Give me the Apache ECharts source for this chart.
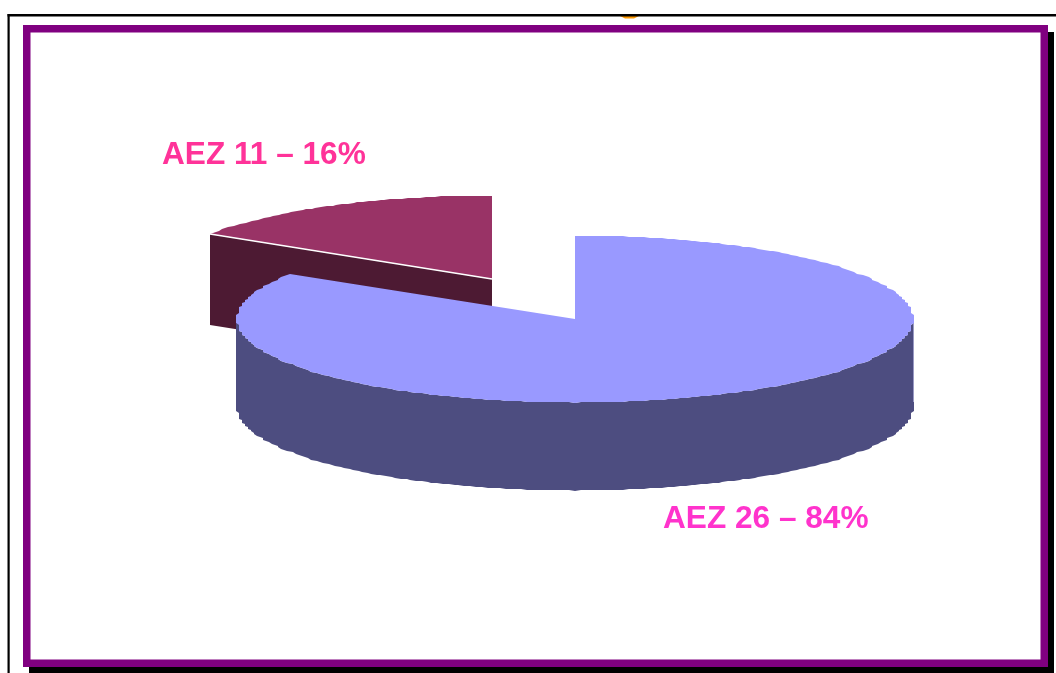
<!DOCTYPE html>
<html>
<head>
<meta charset="utf-8">
<title>AEZ</title>
<script src="https://cdn.jsdelivr.net/npm/echarts@6/dist/echarts.min.js"></script>
<style>
html, body { margin: 0; padding: 0; background: #fff; }
#chart { width: 1056px; height: 673px; }
</style>
</head>
<body>
<div id="chart"></div>
<script>
// values
const names = ['AEZ 26', 'AEZ 11']
const shares = [84, 16]
const topColors = ['#9999ff', '#993366']
const sideColors = ['#4d4d80', '#4d1a33']
const labelColors = ['#ff33cc', '#ff3399']

// squashed pie geometry
const radiiX = [338, 335]
const ry = 83.5
const centers = [[575, 319], [492, 279]]
const depths = [88, 91]
const labelPos = [[663, 519], [162, 155]]

// the original rim is slightly stepped, so snap the rim points a little
const rim = (i, deg) => {
  const c = centers[i]
  const a = deg * Math.PI / 180
  return [
    c[0] + Math.round(radiiX[i] * Math.sin(a) / 3) * 3,
    Math.round(c[1] - ry * Math.cos(a))
  ]
}

const arcPoints = (i, from, to) => {
  const pts = []
  const step = 1
  for (let d = from; d < to; d += step) pts.push(rim(i, d))
  pts.push(rim(i, to))
  return pts
}

// angle where each slice starts and ends, clockwise from 12 o'clock
const spans = []
let acc = 0
shares.forEach(v => {
  spans.push([acc, acc + v * 3.6])
  acc += v * 3.6
})

const slicePieces = i => {
  const c = centers[i]
  const [from, to] = spans[i]
  const dep = depths[i]
  const out = []
  const poly = (points, fill) => out.push({
    type: 'polygon', shape: { points }, style: { fill }
  })
  if (i === 1) {
    // radial wall that faces the viewer
    const a = rim(i, from)
    poly([a, c, [c[0], c[1] + dep], [a[0], a[1] + dep]], sideColors[i])
  } else {
    // outer wall, front half of the rim only
    const front = arcPoints(i, 90, 270)
    poly(front.concat(front.slice().reverse().map(p => [p[0], p[1] + dep])), sideColors[i])
    out.push({
      type: 'line',
      shape: { x1: c[0] + radiiX[i] + 0.5, y1: c[1], x2: c[0] + radiiX[i] + 0.5, y2: c[1] + dep - 5 },
      style: { stroke: '#9a9ac4', lineWidth: 1 }
    })
  }
  poly([c].concat(arcPoints(i, from, to)), topColors[i])
  if (i === 1) {
    const a = rim(i, from)
    out.push({
      type: 'line',
      shape: { x1: a[0], y1: a[1], x2: c[0], y2: c[1] },
      style: { stroke: '#ffffff', lineWidth: 1.5 }
    })
  }
  return out
}

const chart = echarts.init(document.getElementById('chart'), null, { renderer: 'canvas' })

const option = {
  animation: false,
  backgroundColor: '#ffffff',
  graphic: [
    // outer page line and the bit of orange under it
    { type: 'polygon', z: 1, shape: { points: [[620, 16], [639, 16], [634, 18.5], [625, 18.5]] }, style: { fill: '#ff9900' } },
    { type: 'rect', z: 1, shape: { x: 7.5, y: 14, width: 1049, height: 2.5 }, style: { fill: '#000' } },
    { type: 'rect', z: 1, shape: { x: 7.5, y: 14, width: 2.2, height: 659 }, style: { fill: '#000' } },
    // purple frame with its black shadow
    { type: 'rect', z: 2, shape: { x: 29, y: 32, width: 1025, height: 641 }, style: { fill: '#000' } },
    { type: 'rect', z: 3, shape: { x: 26.75, y: 28.75, width: 1017.5, height: 634.5 }, style: { fill: '#fff', stroke: '#800080', lineWidth: 7.5 } }
  ],
  series: [
    {
      type: 'custom',
      coordinateSystem: 'none',
      z: 10,
      silent: true,
      // small slice first, the big one sits over it
      data: [1, 0],
      renderItem: (params, api) => {
        const i = api.value(0)
        return { type: 'group', children: slicePieces(i) }
      }
    },
    {
      type: 'custom',
      coordinateSystem: 'none',
      z: 11,
      silent: true,
      data: [0, 1],
      renderItem: (params, api) => {
        const i = api.value(0)
        return {
          type: 'text',
          style: {
            x: labelPos[i][0],
            y: labelPos[i][1],
            text: names[i] + ' – ' + shares[i] + '%',
            fill: labelColors[i],
            font: 'bold 31.6px "Liberation Sans", Arial, sans-serif',
            textAlign: 'left',
            textVerticalAlign: 'middle'
          }
        }
      }
    }
  ]
}

chart.setOption(option)
</script>
</body>
</html>
